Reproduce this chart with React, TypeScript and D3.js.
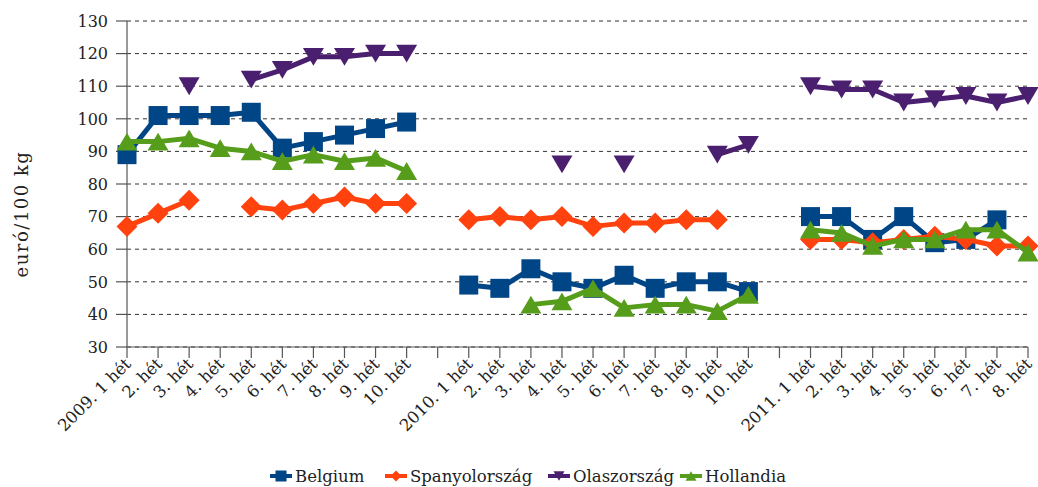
import * as d3 from "d3";

const WEEKS_2009 = ["2009. 1 hét", "2. hét", "3. hét", "4. hét", "5. hét", "6. hét", "7. hét", "8. hét", "9. hét", "10. hét"];
const WEEKS_2010 = ["2010. 1 hét", "2. hét", "3. hét", "4. hét", "5. hét", "6. hét", "7. hét", "8. hét", "9. hét", "10. hét"];
const WEEKS_2011 = ["2011. 1 hét", "2. hét", "3. hét", "4. hét", "5. hét", "6. hét", "7. hét", "8. hét"];

// empty slots between years
const categories = [...WEEKS_2009, "", ...WEEKS_2010, " ", ...WEEKS_2011];

type V = number | null;

const belgium: V[] = [
  89, 101, 101, 101, 102, 91, 93, 95, 97, 99, null,
  49, 48, 54, 50, 48, 52, 48, 50, 50, 47, null,
  70, 70, 63, 70, 62, 63, 69, null,
];
const spanyol: V[] = [
  67, 71, 75, null, 73, 72, 74, 76, 74, 74, null,
  69, 70, 69, 70, 67, 68, 68, 69, 69, null, null,
  63, 63, 62, 63, 64, 63, 61, 61,
];
const olasz: V[] = [
  null, null, 110, null, 112, 115, 119, 119, 120, 120, null,
  null, null, null, 86, null, 86, null, null, 89, 92, null,
  110, 109, 109, 105, 106, 107, 105, 107,
];
const holland: V[] = [
  93, 93, 94, 91, 90, 87, 89, 87, 88, 84, null,
  null, null, 43, 44, 48, 42, 43, 43, 41, 46, null,
  66, 65, 61, 63, 63, 66, 66, 59,
];

const yTicks = [30, 40, 50, 60, 70, 80, 90, 100, 110, 120, 130];

const series = [
  { name: "Belgium", color: "#004586", marker: "square", values: belgium },
  { name: "Spanyolország", color: "#ff420e", marker: "diamond", values: spanyol },
  { name: "Olaszország", color: "#4b1f6f", marker: "tridown", values: olasz },
  { name: "Hollandia", color: "#579d1c", marker: "triup", values: holland },
];

const FONT = "DejaVu Serif";

function markerPath(kind: string, s: number): string {
  const h = s / 2;
  switch (kind) {
    case "square":
      return `M${-h},${-h}H${h}V${h}H${-h}Z`;
    case "diamond":
      return `M0,${-h}L${h},0L0,${h}L${-h},0Z`;
    case "tridown":
      return `M${-h},${-h * 0.85}L${h},${-h * 0.85}L0,${h * 0.85}Z`;
    default:
      return `M${-h},${h * 0.85}L${h},${h * 0.85}L0,${-h * 0.85}Z`;
  }
}

const markerSize: Record<string, number> = { square: 19, diamond: 21, tridown: 21, triup: 21 };

export default function App() {
  const width = 1038;
  const height = 487;
  const left = 127;
  const right = 1028;
  const top = 21;
  const bottom = 347;

  const x = d3.scalePoint<number>().domain(d3.range(categories.length)).range([left, right]).padding(0);
  const y = d3.scaleLinear().domain([30, 130]).range([bottom, top]);

  const line = d3
    .line<V>()
    .defined((d) => d != null)
    .x((_, i) => x(i)!)
    .y((d) => y(d as number));

  const legendItems = [
    { ...series[0], lx: 270 },
    { ...series[1], lx: 385 },
    { ...series[2], lx: 548 },
    { ...series[3], lx: 680 },
  ];

  return (
    <svg
      width={width}
      height={height}
      style={{ position: "absolute", left: 0, top: 0, background: "#fff" }}
    >
      {/* gridlines */}
      {yTicks.map((t) => (
        <line
          key={"g" + t}
          x1={left}
          x2={right}
          y1={y(t)}
          y2={y(t)}
          stroke="#333"
          strokeWidth={1}
          strokeDasharray="4,4"
        />
      ))}
      {/* y axis */}
      <line x1={left} x2={left} y1={top} y2={bottom} stroke="#555" strokeWidth={1.2} />
      {yTicks.map((t) => (
        <g key={"yt" + t}>
          <line x1={left - 11} x2={left} y1={y(t)} y2={y(t)} stroke="#555" strokeWidth={1.2} />
          <text x={left - 19} y={y(t)} dy="0.36em" textAnchor="end" fontSize={16} fill="#222" fontFamily={FONT}>
            {t}
          </text>
        </g>
      ))}
      <text
        transform={`translate(28, 214) rotate(-90)`}
        textAnchor="middle"
        fontSize={18}
        fill="#222"
        letterSpacing={1.5}
        fontFamily={FONT}
      >
        euró/100 kg
      </text>
      {/* x axis */}
      <line x1={left} x2={right} y1={bottom} y2={bottom} stroke="#555" strokeWidth={1.2} />
      {categories.map((c, i) => (
        <g key={"xt" + i}>
          <line x1={x(i)} x2={x(i)} y1={bottom} y2={bottom + 11} stroke="#555" strokeWidth={1.2} />
          {c.trim() !== "" && (
            <text
              transform={`translate(${x(i)! + 5}, ${bottom + 18}) rotate(-45)`}
              textAnchor="end"
              fontSize={16.5}
              fill="#222"
              fontFamily={FONT}
            >
              {c}
            </text>
          )}
        </g>
      ))}
      {/* series */}
      {series.map((s) => (
        <g key={s.name}>
          <path d={line(s.values) ?? ""} fill="none" stroke={s.color} strokeWidth={5} strokeLinejoin="round" />
          {s.values.map((v, i) =>
            v == null ? null : (
              <path
                key={i}
                d={markerPath(s.marker, markerSize[s.marker])}
                transform={`translate(${x(i)}, ${y(v)})`}
                fill={s.color}
              />
            ),
          )}
        </g>
      ))}
      {/* legend */}
      {legendItems.map((s) => (
        <g key={"l" + s.name} transform={`translate(${s.lx}, 476)`}>
          <line x1={0} x2={22} y1={0} y2={0} stroke={s.color} strokeWidth={4} />
          <path d={markerPath(s.marker, 11)} transform="translate(11,0)" fill={s.color} />
          <text x={25} y={0} dy="0.35em" fontSize={16.5} fill="#222" fontFamily={FONT}>
            {s.name}
          </text>
        </g>
      ))}
    </svg>
  );
}
